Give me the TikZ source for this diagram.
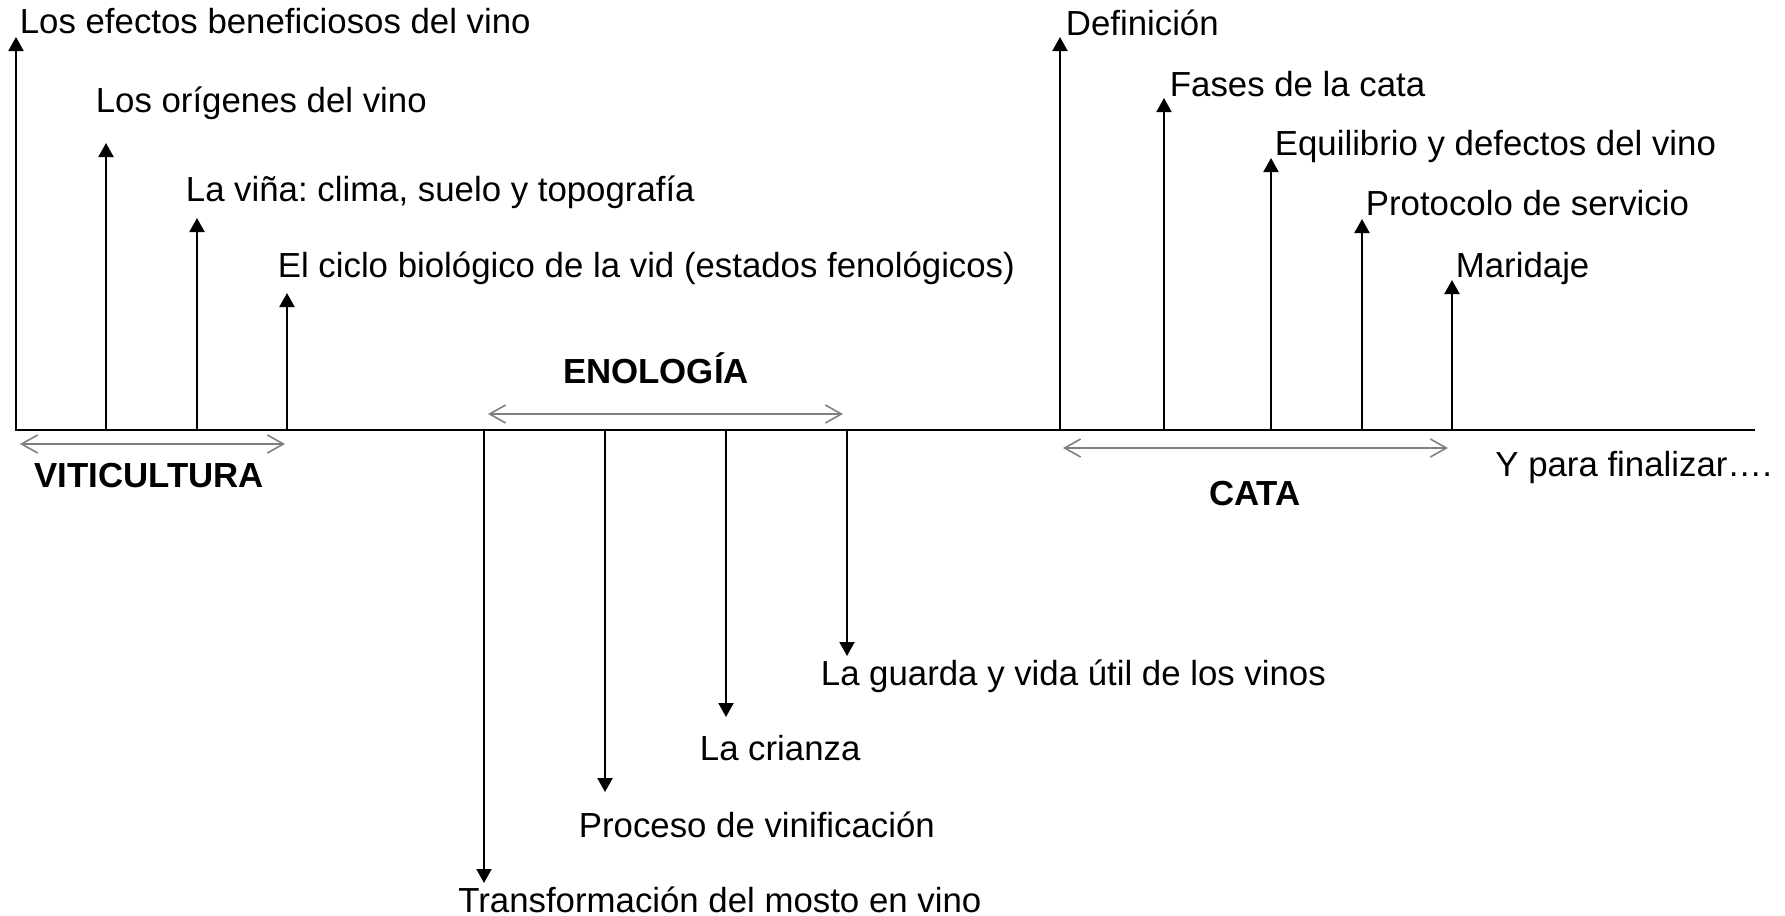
\documentclass[tikz,border=0pt]{standalone}
\usepackage{fontspec}
\setmainfont{Liberation Sans}
\usepackage{xcolor}
\usetikzlibrary{arrows.meta}
\usetikzlibrary{positioning}
\frenchspacing

\tikzstyle{tema} = [inner sep=0pt, anchor=base west, font=\fontsize{17.4}{20}\selectfont]
\tikzstyle{bloque} = [inner sep=0pt, anchor=base, font=\fontsize{17.4}{20}\selectfont\bfseries]
\tikzstyle{flecha} = [line width=1pt, -{Triangle[width=7.5pt,length=7pt]}]
\tikzstyle{rango} = [draw=gray, line width=0.8pt,
{Straight Barb[length=8pt,width=9pt]}-{Straight Barb[length=8pt,width=9pt]}]

\begin{document}
\begin{tikzpicture}[x=0.5pt,y=-0.5pt]
        \useasboundingbox (0,0) rectangle (1785,916);
        \coordinate (ini) at (15,430);
        \coordinate (fin) at (1755,430);
        \draw[line width=1pt] (ini) -- (fin);

        % viticultura
        \coordinate (v1) at (16,37);
        \coordinate (v2) at (106,143);
        \coordinate (v3) at (197,218);
        \coordinate (v4) at (287,293);
        \node[tema] (lv1) at (19.5,33) {Los efectos beneficiosos del vino};
        \node[tema] (lv2) at (95.5,112) {Los orígenes del vino};
        \node[tema] (lv3) at (185.5,201) {La viña: clima, suelo y topografía};
        \node[tema] (lv4) at (277.5,277) {El ciclo biológico de la vid (estados fenológicos)};
        \draw[flecha] (v1 |- ini) -- (v1);
        \draw[flecha] (v2 |- ini) -- (v2);
        \draw[flecha] (v3 |- ini) -- (v3);
        \draw[flecha] (v4 |- ini) -- (v4);
        \coordinate (rv1) at (20,444);
        \coordinate (rv2) at (285,444);
        \draw[rango] (rv1) -- (rv2);
        \node[bloque] (viti) at (149,487) {VITICULTURA};

        % enologia
        \coordinate (e1) at (484,883);
        \coordinate (e2) at (605,792);
        \coordinate (e3) at (726,717);
        \coordinate (e4) at (847,656);
        \node[tema] (le1) at (458,912) {Transformación del mosto en vino};
        \node[tema] (le2) at (578.5,837) {Proceso de vinificación};
        \node[tema] (le3) at (699.5,760) {La crianza};
        \node[tema] (le4) at (820.5,685) {La guarda y vida útil de los vinos};
        \draw[flecha] (e1 |- ini) -- (e1);
        \draw[flecha] (e2 |- ini) -- (e2);
        \draw[flecha] (e3 |- ini) -- (e3);
        \draw[flecha] (e4 |- ini) -- (e4);
        \coordinate (re1) at (488,414);
        \coordinate (re2) at (843,414);
        \draw[rango] (re1) -- (re2);
        \node[bloque] (eno) at (656,383) {ENOLOGÍA};

        % cata
        \coordinate (c1) at (1060,37);
        \coordinate (c2) at (1164,98);
        \coordinate (c3) at (1271,158);
        \coordinate (c4) at (1362,219);
        \coordinate (c5) at (1452,280);
        \node[tema] (lc1) at (1065.5,35) {Definición};
        \node[tema] (lc2) at (1169.5,96) {Fases de la cata};
        \node[tema] (lc3) at (1274.5,155) {Equilibrio y defectos del vino};
        \node[tema] (lc4) at (1365.5,215) {Protocolo de servicio};
        \node[tema] (lc5) at (1455.5,277) {Maridaje};
        \draw[flecha] (c1 |- ini) -- (c1);
        \draw[flecha] (c2 |- ini) -- (c2);
        \draw[flecha] (c3 |- ini) -- (c3);
        \draw[flecha] (c4 |- ini) -- (c4);
        \draw[flecha] (c5 |- ini) -- (c5);
        \coordinate (rc1) at (1063,448);
        \coordinate (rc2) at (1448,448);
        \draw[rango] (rc1) -- (rc2);
        \node[bloque] (cata) at (1255,505) {CATA};

        \node[tema] (final) at (1495,476) {Y para finalizar….};
    \end{tikzpicture}
\end{document}
